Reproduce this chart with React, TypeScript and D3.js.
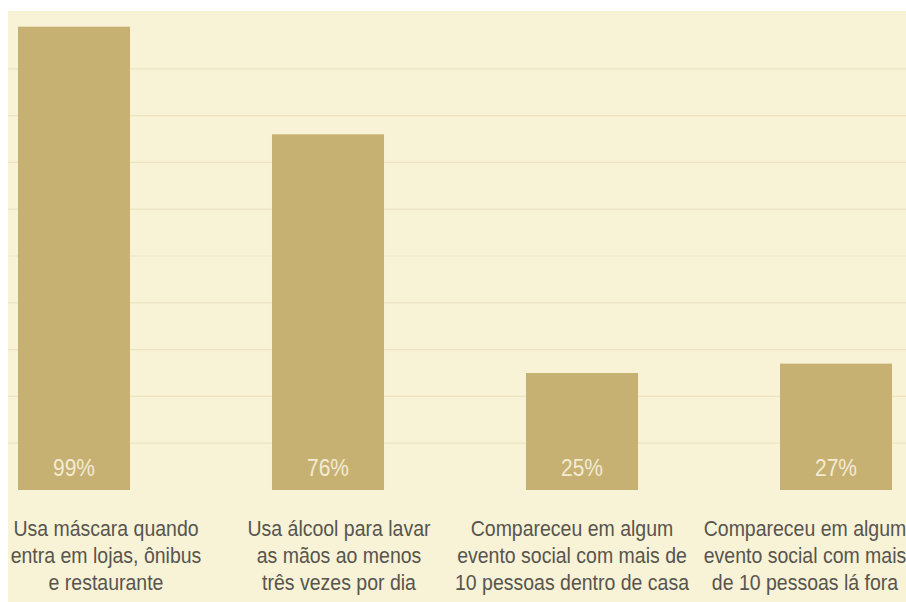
import React from "react";
import * as d3 from "d3";

const categories = ["mascara", "alcool", "eventoDentro", "eventoFora"];
const values = [99, 76, 25, 27];
const valueLabels = ["99%", "76%", "25%", "27%"];
const labelLines = [
  ["Usa máscara quando", "entra em lojas, ônibus", "e restaurante"],
  ["Usa álcool para lavar", "as mãos ao menos", "três vezes por dia"],
  ["Compareceu em algum", "evento social com mais de", "10 pessoas dentro de casa"],
  ["Compareceu em algum", "evento social com mais", "de 10 pessoas lá fora"],
];
const gridTicks = [10, 20, 30, 40, 50, 60, 70, 80, 90];

const W = 906;
const H = 602;
const BG = "#f8f2d6";
const BAR = "#c6b173";
const FONT = "'Liberation Sans', Arial, sans-serif";

export default function App() {
  const x = d3
    .scaleBand<string>()
    .domain(categories)
    .range([18, 892])
    .paddingInner(0.559)
    .paddingOuter(0);
  const xLabel = d3.scalePoint<string>().domain(categories).range([106, 805]);
  const y = d3.scaleLinear().domain([0, 100]).range([490, 22]);

  return (
    <svg
      width={W}
      height={H}
      style={{ position: "absolute", left: 0, top: 0, background: "#ffffff" }}
      fontFamily={FONT}
    >
      <rect x={8} y={11} width={W - 8} height={H - 11} fill={BG} />
      {gridTicks.map((t) => (
        <line
          key={t}
          x1={8}
          x2={W}
          y1={y(t)}
          y2={y(t)}
          stroke="#ece4c3"
          strokeWidth={1.2}
        />
      ))}
      {categories.map((c, i) => (
        <g key={c}>
          <rect
            x={x(c)}
            y={y(values[i])}
            width={x.bandwidth()}
            height={y(0) - y(values[i])}
            fill={BAR}
          />
          <text
            transform={`translate(${(x(c) as number) + x.bandwidth() / 2},${y(0) - 14}) scale(1,1.12)`}
            textAnchor="middle"
            fontSize={21}
            fill="#f3ebd2"
          >
            {valueLabels[i]}
          </text>
          {labelLines[i].map((ln, j) => (
            <text
              key={j}
              transform={`translate(${xLabel(c)},${536 + j * 27}) scale(1,1.12)`}
              textAnchor="middle"
              fontSize={19.5}
              fill="#57554e"
            >
              {ln}
            </text>
          ))}
        </g>
      ))}
    </svg>
  );
}
